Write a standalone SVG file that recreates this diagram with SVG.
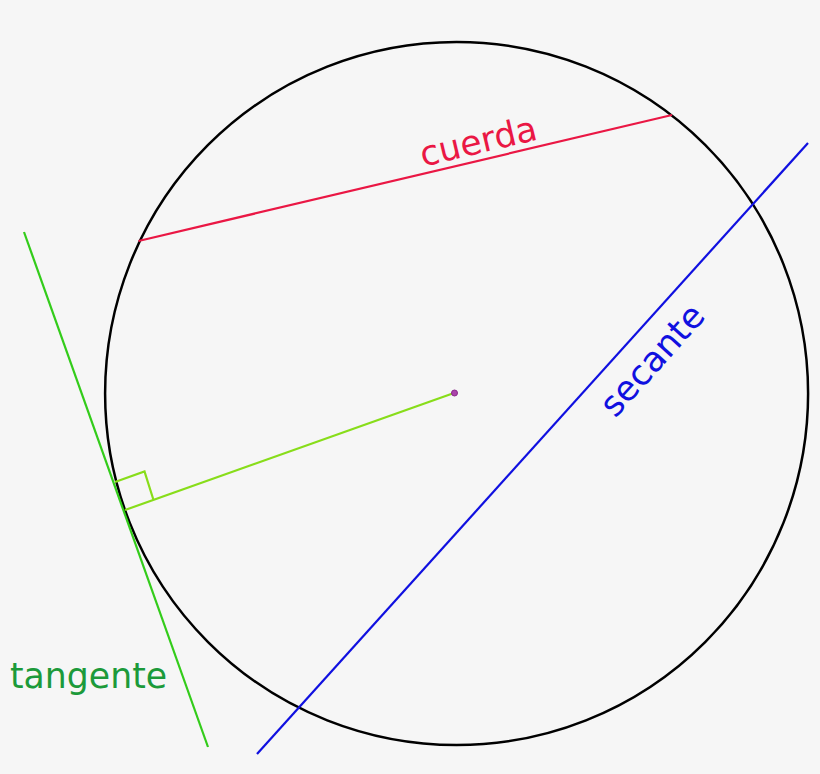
<svg xmlns="http://www.w3.org/2000/svg" width="820" height="774" viewBox="0 0 820 774">
<style>
  .lbl { font-family: "DejaVu Sans", "Liberation Sans", sans-serif; font-size: 34.7px; }
  .ln { fill: none; stroke-width: 2.2; stroke-linecap: butt; }
</style>
<rect x="0" y="0" width="820" height="774" fill="#f6f6f6"/>
<g id="circle">
  <circle cx="456.6" cy="393.5" r="351.5" fill="none" stroke="#000000" stroke-width="2.5"/>
</g>
<g id="connectors">
  <line id="cuerda-line" class="ln" x1="138.5" y1="241" x2="672" y2="115" stroke="#ea1744"/>
  <line id="secante-line" class="ln" x1="808" y1="143" x2="257" y2="754" stroke="#1010e0"/>
  <line id="tangente-line" class="ln" x1="24" y1="232" x2="208" y2="747" stroke="#33cc1a"/>
  <line id="radio" class="ln" x1="125" y1="510" x2="454" y2="393" stroke="#88dd1a"/>
  <polyline id="right-angle" class="ln" points="115,482 144.5,471.5 153.5,500" stroke="#88dd1a"/>
</g>
<g id="center">
  <circle cx="454.5" cy="393" r="3" fill="#aa44aa" stroke="#8a2a8a" stroke-width="1"/>
</g>
<g id="label-cuerda">
  <text class="lbl" x="481" y="153" text-anchor="middle" fill="#ea1744" transform="rotate(-13.3 481 153)">cuerda</text>
</g>
<g id="label-secante">
  <text class="lbl" x="661" y="368" text-anchor="middle" fill="#1010e0" transform="rotate(-48 661 368)">secante</text>
</g>
<g id="label-tangente">
  <text class="lbl" x="10" y="688" fill="#1c9a3a">tangente</text>
</g>
</svg>
